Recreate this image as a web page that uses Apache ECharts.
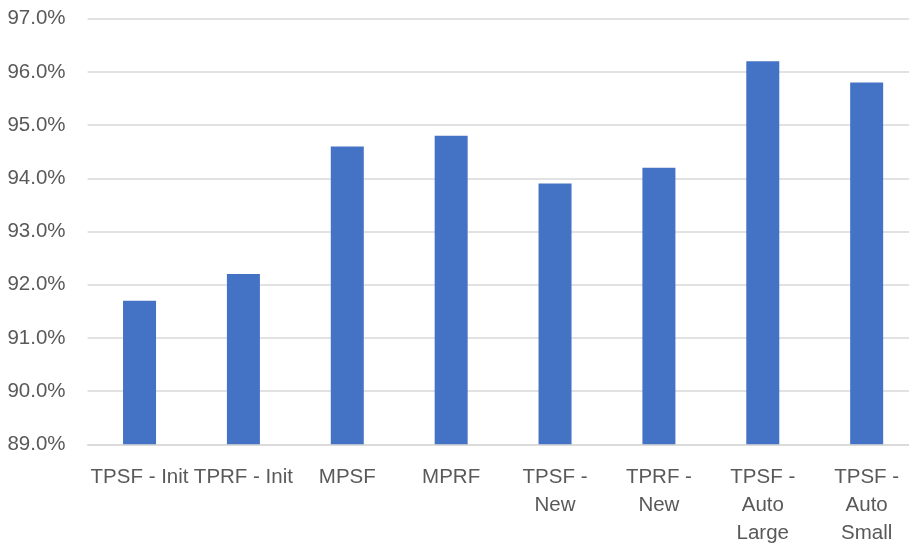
<!DOCTYPE html>
<html>
<head>
<meta charset="utf-8">
<script src="https://cdn.jsdelivr.net/npm/echarts@6/dist/echarts.min.js"></script>
<style>
  html, body { margin: 0; padding: 0; background: #fff; }
  #chart { width: 909px; height: 550px; }
</style>
</head>
<body>
<div id="chart"></div>
<script>
// Accuracy per configuration (percent)
const categories = [
  'TPSF - Init', 'TPRF - Init', 'MPSF', 'MPRF',
  'TPSF -\nNew', 'TPRF -\nNew', 'TPSF -\nAuto\nLarge', 'TPSF -\nAuto\nSmall'
];
const accuracy = [91.7, 92.2, 94.6, 94.8, 93.9, 94.2, 96.2, 95.8];
const yMin = 89;
const yMax = 97;
const yStep = 1;

const chart = echarts.init(document.getElementById('chart'));
const textColor = '#595959';
const font = 'Liberation Sans';

chart.setOption({
  animation: false,
  grid: {
    left: 87.6, top: 18.7, right: -9.6, bottom: 105.7,
    containLabel: false, outerBoundsMode: 'none'
  },
  xAxis: {
    type: 'category',
    data: categories,
    axisLine: { show: true, lineStyle: { color: '#d9d9d9', width: 1.5 } },
    axisTick: { show: false },
    axisLabel: {
      color: textColor, fontFamily: font, fontSize: 20.5,
      lineHeight: 28, margin: 19, interval: 0
    }
  },
  yAxis: {
    type: 'value',
    min: yMin, max: yMax, interval: yStep,
    axisLine: { show: false },
    axisTick: { show: false },
    splitLine: { lineStyle: { color: '#d9d9d9', width: 1.5 } },
    axisLabel: {
      color: textColor, fontFamily: font, fontSize: 20.5, margin: 22,
      formatter: v => v.toFixed(1) + '%'
    }
  },
  series: [{
    type: 'bar',
    data: accuracy,
    barWidth: 33,
    itemStyle: { color: '#4472c4' }
  }]
});
</script>
</body>
</html>
